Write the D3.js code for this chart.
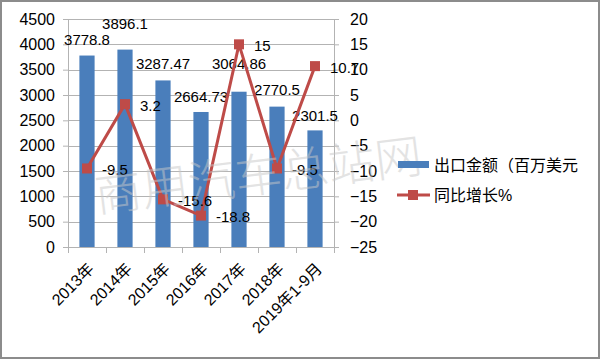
<!DOCTYPE html>
<html><head><meta charset="utf-8">
<script src="https://cdn.jsdelivr.net/npm/d3@7"></script>
<style>
html,body{margin:0;padding:0;background:#fff;}
svg text{font-family:"Liberation Sans","Noto Sans CJK SC",sans-serif;fill:#000;}
</style></head>
<body>
<svg id="chart" width="600" height="359"></svg>
<script>
const categories = ["2013年","2014年","2015年","2016年","2017年","2018年","2019年1-9月"];
const exportValues = [3778.8, 3896.1, 3287.47, 2664.73, 3064.86, 2770.5, 2301.5];
const exportLabels = ["3778.8","3896.1","3287.47","2664.73","3064.86","2770.5","2301.5"];
const growthValues = [-9.5, 3.2, -15.6, -18.8, 15, -9.5, 10.7];
const growthLabels = ["-9.5","3.2","-15.6","-18.8","15","-9.5","10.7"];
const leftTicks = [0,500,1000,1500,2000,2500,3000,3500,4000,4500];
const rightTicks = [-25,-20,-15,-10,-5,0,5,10,15,20];
const seriesNames = ["出口金额（百万美元）","同比增长%"];
const watermark = "商用汽车总站网";
// label nudges (layout only)
const barLabelLift = [16, 26, 17, 15, 28, 17, 15];

const svg = d3.select("#chart");
const W = 600, H = 359;
const m = {left:68, right:334, top:19, bottom:247};
const blue = "#4a7ebb", red = "#be4b48", grid = "#b3b3b3";

svg.append("rect").attr("x",1).attr("y",1).attr("width",W-2).attr("height",H-2)
  .attr("fill","#fff").attr("stroke","#8c8c8c").attr("stroke-width",2);

const x = d3.scaleBand().domain(categories).range([m.left, m.right]).paddingInner(0.6).paddingOuter(0.3);
const yL = d3.scaleLinear().domain([0,4500]).range([m.bottom, m.top]);
const yR = d3.scaleLinear().domain([-25,20]).range([m.bottom, m.top]);
const cx = d => x(d) + x.bandwidth()/2;

// gridlines
svg.append("g").selectAll("line").data(leftTicks).join("line")
  .attr("x1", m.left).attr("x2", m.right)
  .attr("y1", d=>Math.round(yL(d))+0.5).attr("y2", d=>Math.round(yL(d))+0.5)
  .attr("stroke", grid).attr("stroke-width",1);

// left axis
const gL = svg.append("g").attr("transform",`translate(${m.left},0)`)
  .call(d3.axisLeft(yL).tickValues(leftTicks).tickSize(5).tickPadding(8).tickFormat(d3.format("d")));
gL.select(".domain").attr("stroke", grid);
gL.selectAll(".tick line").attr("stroke", grid);
gL.selectAll("text").attr("font-size",16).attr("font-family","Liberation Sans");

// right axis
const gR = svg.append("g").attr("transform",`translate(${m.right},0)`)
  .call(d3.axisRight(yR).tickValues(rightTicks).tickSize(5).tickPadding(11).tickFormat(d3.format("d")));
gR.select(".domain").attr("stroke", grid);
gR.selectAll(".tick line").attr("stroke", grid);
gR.selectAll("text").attr("font-size",16).attr("font-family","Liberation Sans");

// x axis line and boundary ticks
const bounds = d3.range(categories.length+1).map(i => m.left + i*(m.right-m.left)/categories.length);
svg.append("line").attr("x1",m.left).attr("x2",m.right).attr("y1",m.bottom+0.5).attr("y2",m.bottom+0.5).attr("stroke",grid);
svg.append("g").selectAll("line").data(bounds).join("line")
  .attr("x1",d=>Math.round(d)+0.5).attr("x2",d=>Math.round(d)+0.5)
  .attr("y1",m.bottom).attr("y2",m.bottom+6).attr("stroke",grid);

// x labels
svg.append("g").selectAll("text").data(categories).join("text")
  .attr("transform", d=>`translate(${cx(d)+4},${m.bottom+19}) rotate(-45)`)
  .attr("text-anchor","end").attr("dy","0.35em").attr("font-size",16)
  .text(d=>d);

// bars
svg.append("g").selectAll("rect").data(categories).join("rect")
  .attr("x", d=>x(d)).attr("width", x.bandwidth())
  .attr("y", (d,i)=>yL(exportValues[i])).attr("height",(d,i)=>m.bottom - yL(exportValues[i]))
  .attr("fill", blue);

// bar labels
svg.append("g").selectAll("text").data(categories).join("text")
  .attr("x", d=>cx(d)).attr("y",(d,i)=>yL(exportValues[i]) - barLabelLift[i])
  .attr("text-anchor","middle").attr("dy","0.35em").attr("font-size",15)
  .text((d,i)=>exportLabels[i]);

// line
const line = d3.line().x((d,i)=>cx(categories[i])).y(d=>yR(d));
svg.append("path").datum(growthValues).attr("d", line)
  .attr("fill","none").attr("stroke", red).attr("stroke-width",3).attr("stroke-linejoin","round");
svg.append("g").selectAll("rect").data(growthValues).join("rect")
  .attr("x",(d,i)=>cx(categories[i])-5).attr("y",d=>yR(d)-5)
  .attr("width",10).attr("height",10).attr("fill", red);

// line labels
svg.append("g").selectAll("text").data(growthValues).join("text")
  .attr("x",(d,i)=>cx(categories[i])+15).attr("y",d=>yR(d)+1.5)
  .attr("dy","0.35em").attr("font-size",15)
  .text((d,i)=>growthLabels[i]);

// watermark
svg.append("text").attr("transform","translate(97,212) rotate(-7)")
  .attr("font-size",47).attr("font-family","Noto Sans CJK SC").attr("font-weight",300)
  .style("fill","#c8c8c8").attr("opacity",0.5)
  .text(watermark);

// legend (clipped at right like the reference)
const clip = svg.append("clipPath").attr("id","lclip");
clip.append("rect").attr("x",0).attr("y",0).attr("width",578).attr("height",H);
const lg = svg.append("g").attr("clip-path","url(#lclip)");
lg.append("rect").attr("x",398).attr("y",161).attr("width",31).attr("height",7).attr("fill",blue);
lg.append("text").attr("x",434).attr("y",165).attr("dy","0.35em").attr("font-size",16)
  .attr("font-family","Noto Sans CJK SC").text(seriesNames[0]);
lg.append("line").attr("x1",397).attr("x2",430).attr("y1",195).attr("y2",195).attr("stroke",red).attr("stroke-width",3);
lg.append("rect").attr("x",408).attr("y",190).attr("width",10).attr("height",10).attr("fill",red);
lg.append("text").attr("x",434).attr("y",195).attr("dy","0.35em").attr("font-size",16)
  .attr("font-family","Noto Sans CJK SC").text(seriesNames[1]);
</script>
</body></html>
